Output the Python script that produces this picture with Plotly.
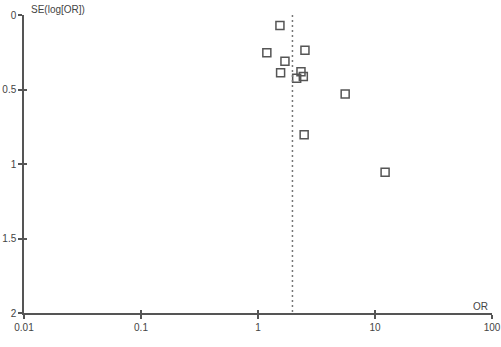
import plotly.graph_objects as go

# Study data: odds ratio and standard error of log(OR)
odds_ratio = [1.54, 1.19, 2.52, 1.70, 1.56, 2.33, 2.44, 2.14, 5.56, 2.48, 12.2]
se_log_or = [0.07, 0.254, 0.236, 0.31, 0.388, 0.381, 0.413, 0.424, 0.53, 0.804, 1.055]
pooled_or = 1.97
se_range = [0, 2]

x_tickvals = [0.01, 0.1, 1, 10, 100]
x_ticktext = ["0.01", "0.1", "1", "10", "100"]
y_tickvals = [0, 0.5, 1, 1.5, 2]
y_ticktext = ["0", "0.5", "1", "1.5", "2"]

axis_color = "#555555"
font = dict(family="Liberation Sans, Arial, sans-serif", size=10, color="#444444")

fig = go.Figure()
# pooled estimate line drawn on overlay axes (identical ranges) so they render inner tick halves
fig.add_trace(go.Scatter(
    x=[pooled_or, pooled_or], y=se_range, mode="lines",
    line=dict(color="#777777", width=1.5, dash="2px,3px"),
    hoverinfo="skip", showlegend=False, xaxis="x2", yaxis="y2",
))
fig.add_trace(go.Scatter(
    x=odds_ratio, y=se_log_or, mode="markers",
    marker=dict(symbol="square-open", size=8, color="#555555", line=dict(width=1.5, color="#555555")),
    showlegend=False,
))

common = dict(showgrid=False, zeroline=False, showline=True, linecolor=axis_color, linewidth=1.5,
              tickcolor=axis_color, tickwidth=1.5, automargin=False)

fig.update_layout(
    width=501, height=347,
    margin=dict(l=24, r=9, t=15, b=34),
    paper_bgcolor="white", plot_bgcolor="white",
    font=font,
    xaxis=dict(
        type="log", range=[-2, 2], tickvals=x_tickvals, ticktext=x_ticktext,
        ticks="outside", ticklen=4, tickfont=font, ticklabeloverflow="allow", **common,
    ),
    yaxis=dict(
        range=[2, 0], tickvals=y_tickvals, ticktext=y_ticktext,
        ticks="outside", ticklen=4, tickfont=font, ticklabeloverflow="allow", **common,
    ),
    xaxis2=dict(
        type="log", range=[-2, 2], tickvals=x_tickvals, overlaying="x", anchor="y2", side="bottom",
        ticks="inside", ticklen=3, showticklabels=False, **common,
    ),
    yaxis2=dict(
        range=[2, 0], tickvals=y_tickvals, overlaying="y", anchor="x2", side="left",
        ticks="inside", ticklen=3, showticklabels=False, **common,
    ),
    annotations=[
        dict(text="SE(log[OR])", xref="paper", yref="paper", x=0.0, y=1.0,
             xanchor="left", yanchor="middle", xshift=5, yshift=6, showarrow=False, font=font),
        dict(text="OR", xref="paper", yref="paper", x=1.0, y=0.0,
             xanchor="right", yanchor="bottom", xshift=-2, yshift=-1, showarrow=False, font=font),
    ],
)

fig.write_html("out.html")
